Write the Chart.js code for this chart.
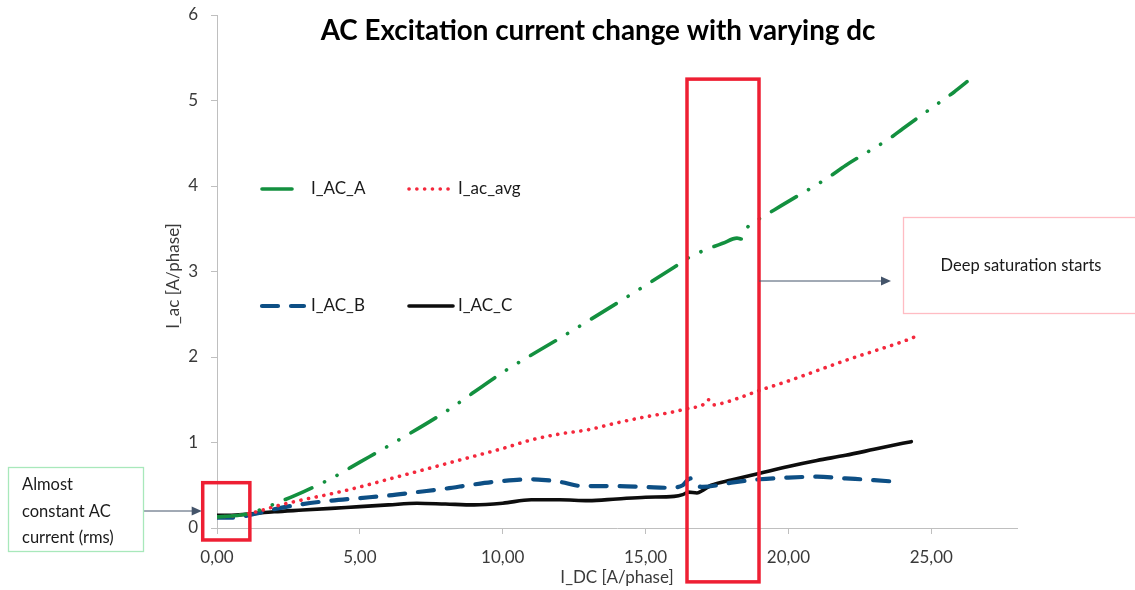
<!DOCTYPE html>
<html>
<head>
<meta charset="utf-8">
<script src="https://cdn.jsdelivr.net/npm/chart.js@4.4.1/dist/chart.umd.min.js"></script>
<style>
  html, body { margin: 0; padding: 0; background: #fff; }
  canvas { display: block; }
</style>
</head>
<body>
<canvas id="chart" width="1135" height="590"></canvas>
<script>
// data (I_DC in A/phase, I_ac in A/phase)
const aX = [0, 0.5, 1, 1.5, 2, 3, 4, 5, 6, 8, 10, 12, 14, 16, 16.5, 17, 17.7, 18.2, 18.35, 18.45, 18.6, 19, 19.5, 20, 21.35, 22, 23.6, 24, 25, 25.8, 26.25];
const aY = [0.13, 0.14, 0.16, 0.21, 0.28, 0.42, 0.58, 0.77, 0.96, 1.36, 1.82, 2.22, 2.63, 3.05, 3.16, 3.24, 3.33, 3.39, 3.38, 3.45, 3.53, 3.62, 3.72, 3.82, 4.09, 4.24, 4.57, 4.67, 4.91, 5.10, 5.22];

const avgX = [0, 0.5, 1, 1.5, 2, 3, 4, 5, 6, 7, 8, 9, 10, 11, 12, 13, 14, 15, 16, 16.5, 17, 17.2, 17.4, 17.7, 18, 19, 20, 21, 22, 23, 24, 24.6];
const avgY = [0.13, 0.14, 0.16, 0.20, 0.25, 0.33, 0.40, 0.48, 0.57, 0.66, 0.75, 0.84, 0.93, 1.03, 1.10, 1.15, 1.23, 1.30, 1.36, 1.40, 1.44, 1.50, 1.44, 1.46, 1.49, 1.61, 1.72, 1.84, 1.96, 2.07, 2.18, 2.26];

const bX = [0, 0.5, 1, 1.5, 2, 3, 4, 5, 6, 7, 8, 9, 10, 11, 11.5, 12, 12.8, 14, 15, 15.8, 16.3, 16.5, 16.6, 16.8, 17, 18, 19, 20, 21, 22, 23, 23.8];
const bY = [0.12, 0.12, 0.14, 0.18, 0.22, 0.28, 0.32, 0.35, 0.38, 0.42, 0.46, 0.51, 0.55, 0.57, 0.56, 0.54, 0.49, 0.49, 0.48, 0.47, 0.50, 0.57, 0.58, 0.50, 0.48, 0.53, 0.57, 0.59, 0.60, 0.58, 0.56, 0.54];

const cX = [0, 0.5, 1, 2, 3, 4, 5, 6, 7, 8, 9, 10, 11, 12, 13, 14, 15, 16, 16.3, 16.5, 16.8, 17, 17.3, 18, 19, 20, 21, 22, 23, 24, 24.3];
const cY = [0.15, 0.15, 0.16, 0.19, 0.21, 0.23, 0.25, 0.27, 0.29, 0.28, 0.27, 0.29, 0.33, 0.33, 0.32, 0.34, 0.36, 0.37, 0.39, 0.42, 0.41, 0.44, 0.50, 0.56, 0.64, 0.72, 0.79, 0.85, 0.92, 0.99, 1.01];

const seriesNames = ["I_AC_A", "I_ac_avg", "I_AC_B", "I_AC_C"];
const xTicks = [0, 5, 10, 15, 20, 25];
const yTicks = [0, 1, 2, 3, 4, 5, 6];

// highlighted regions, in data units
const boxLow = { x0: -0.5, x1: 1.15, y0: -0.14, y1: 0.53 };
const boxSat = { x0: 16.45, x1: 18.97, y0: -0.63, y1: 5.25 };

const FONT = "Lato, 'Open Sans', sans-serif";
const green = "#13903f", red = "#f4283c", blue = "#0d4f85", black = "#0d0d0d";
const styles = [
  { color: green, width: 3.6, dash: [29, 14, 0.1, 14, 0.1, 14] },
  { color: red,   width: 3.6, dash: [0.1, 7.7] },
  { color: blue,  width: 4.2, dash: [16, 13] },
  { color: black, width: 3.6, dash: [] }
];
const pairs = (xs, ys) => xs.map((v, i) => ({ x: v, y: ys[i] }));
const allData = [pairs(aX, aY), pairs(avgX, avgY), pairs(bX, bY), pairs(cX, cY)];

const fmtComma = v => v.toFixed(2).replace(".", ",");

function arrow(ctx, x1, y, x2) {
  ctx.save();
  ctx.strokeStyle = "#44546a"; ctx.fillStyle = "#44546a";
  ctx.lineWidth = 1;
  ctx.beginPath(); ctx.moveTo(x1, y); ctx.lineTo(x2 - 9, y); ctx.stroke();
  ctx.beginPath(); ctx.moveTo(x2, y); ctx.lineTo(x2 - 10, y - 4.5); ctx.lineTo(x2 - 10, y + 4.5); ctx.closePath(); ctx.fill();
  ctx.restore();
}

const overlay = {
  id: "overlay",
  afterDraw(chart) {
    const { ctx } = chart;
    const sx = chart.scales.x, sy = chart.scales.y;
    ctx.save();

    // title, fitted to width
    const title = "AC Excitation current change with varying dc";
    let fs = 26;
    ctx.font = `bold ${fs}px ${FONT}`;
    fs = fs * 555 / ctx.measureText(title).width;
    ctx.font = `bold ${fs}px ${FONT}`;
    ctx.fillStyle = "#000";
    ctx.textAlign = "center"; ctx.textBaseline = "middle";
    ctx.fillText(title, 598, 31);

    // axis titles
    ctx.font = `17px ${FONT}`;
    ctx.fillStyle = "#3a3a3a";
    ctx.fillText("I_DC [A/phase]", 617, 578);
    ctx.save();
    ctx.translate(174, 276); ctx.rotate(-Math.PI / 2);
    ctx.fillText("I_ac [A/phase]", 0, 0);
    ctx.restore();

    // legend
    const leg = [
      { x0: 262, x1: 292, tx: 311, y: 189 },
      { x0: 409, x1: 453, tx: 458, y: 189 },
      { x0: 262, x1: 304, tx: 311, y: 306 },
      { x0: 409, x1: 453, tx: 458, y: 306 }
    ];
    leg.forEach((l, i) => {
      const s = styles[i];
      ctx.save();
      ctx.strokeStyle = s.color; ctx.lineWidth = s.width; ctx.lineCap = "round";
      ctx.setLineDash(i === 0 ? [] : s.dash);
      ctx.beginPath(); ctx.moveTo(l.x0, l.y); ctx.lineTo(l.x1, l.y); ctx.stroke();
      ctx.restore();
      ctx.fillStyle = "#1a1a1a"; ctx.textAlign = "left"; ctx.textBaseline = "middle";
      ctx.font = `17px ${FONT}`;
      ctx.fillText(seriesNames[i], l.tx, l.y);
    });

    // red highlight boxes
    ctx.strokeStyle = "#ee1f33"; ctx.lineWidth = 3.5; ctx.setLineDash([]);
    [boxLow, boxSat].forEach(b => {
      const l = sx.getPixelForValue(b.x0), r = sx.getPixelForValue(b.x1);
      const t = sy.getPixelForValue(b.y1), btm = sy.getPixelForValue(b.y0);
      ctx.strokeRect(l, t, r - l, btm - t);
    });

    // callout: deep saturation
    const satR = sx.getPixelForValue(boxSat.x1);
    arrow(ctx, satR, 281, 891);
    ctx.strokeStyle = "#ffbcc3"; ctx.lineWidth = 1.3;
    ctx.strokeRect(903.5, 217.5, 240, 96);
    ctx.fillStyle = "#1a1a1a"; ctx.textAlign = "center"; ctx.textBaseline = "middle";
    ctx.font = `16.5px ${FONT}`;
    ctx.fillText("Deep saturation starts", 1021, 266);

    // callout: almost constant
    arrow(ctx, 143, 511, sx.getPixelForValue(boxLow.x0) - 1);
    ctx.strokeStyle = "#a8e8bb"; ctx.lineWidth = 1.3;
    ctx.strokeRect(8.5, 467.5, 135, 84);
    ctx.fillStyle = "#1a1a1a"; ctx.textAlign = "left";
    ["Almost", "constant AC", "current (rms)"].forEach((t, i) => ctx.fillText(t, 22, 485 + i * 26.5));

    ctx.restore();
  }
};

new Chart(document.getElementById("chart"), {
  type: "line",
  data: {
    datasets: allData.map((d, i) => ({
      label: seriesNames[i],
      data: d,
      borderColor: styles[i].color,
      backgroundColor: styles[i].color,
      borderWidth: styles[i].width,
      borderDash: styles[i].dash,
      borderCapStyle: "round",
      borderJoinStyle: "round",
      pointRadius: 0,
      cubicInterpolationMode: "monotone",
      fill: false
    }))
  },
  options: {
    responsive: false,
    animation: false,
    devicePixelRatio: 1,
    layout: { padding: { top: 15, right: 118, left: 0, bottom: 0 } },
    plugins: { legend: { display: false }, tooltip: { enabled: false }, title: { display: false } },
    scales: {
      x: {
        type: "linear", min: 0, max: 28,
        afterFit: s => { s.height = 62; s.paddingLeft = 0; s.paddingRight = 0; },
        afterBuildTicks: s => { s.ticks = xTicks.map(v => ({ value: v })); },
        border: { color: "#bfbfbf", width: 1 },
        grid: { drawOnChartArea: false, tickLength: 6, tickColor: "#bfbfbf" },
        ticks: { padding: 13, color: "#3a3a3a", font: { family: FONT, size: 17 }, callback: v => fmtComma(v) }
      },
      y: {
        min: 0, max: 6,
        afterFit: s => { s.width = 217; s.paddingTop = 0; s.paddingBottom = 0; },
        afterBuildTicks: s => { s.ticks = yTicks.map(v => ({ value: v })); },
        border: { color: "#bfbfbf", width: 1 },
        grid: { drawOnChartArea: false, tickLength: 6, tickColor: "#bfbfbf" },
        ticks: { padding: 13, color: "#3a3a3a", font: { family: FONT, size: 17 } }
      }
    }
  },
  plugins: [overlay]
});
</script>
</body>
</html>
